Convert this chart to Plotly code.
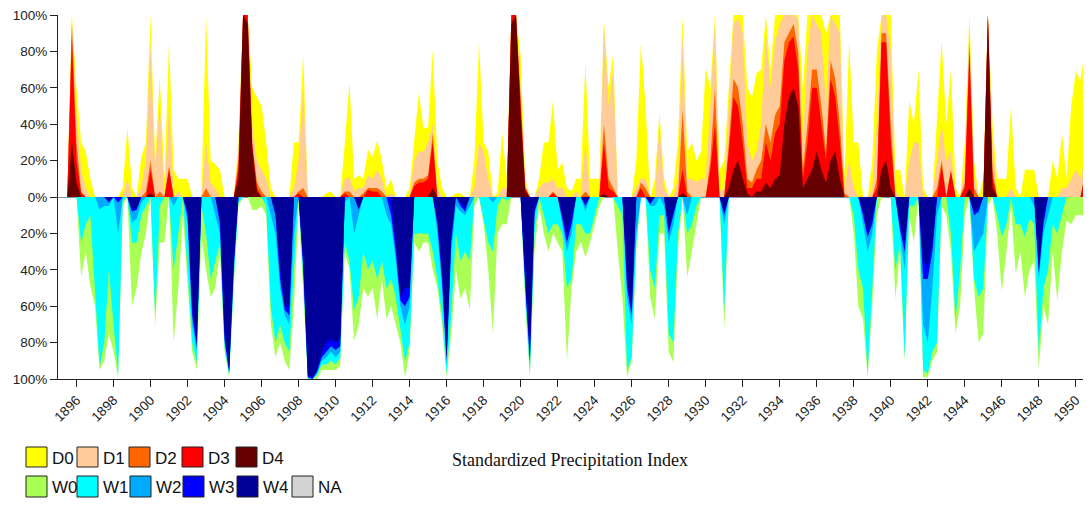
import plotly.graph_objects as go

# ---------------- data (percent of area, quarterly, cumulative classes) ----------------
years = list(range(1895, 1951))
quarters = [0.0, 0.25, 0.5, 0.75]
tick_years = list(range(1896, 1951, 2))
tick_labels = [str(y) for y in tick_years]
y_ticks = [-100, -80, -60, -40, -20, 0, 20, 40, 60, 80, 100]
y_labels = [f"{abs(v)}%" for v in y_ticks]

d0 = [0,0,0,100, 60,30,25,10,
      0,0,0,0, 0,0,5,38,
      5,0,22,30, 100,20,66,10,
      85,15,10,10, 10,0,0,0,
      100,20,18,15, 0,0,0,30,
      100,100,60,55, 50,30,5,0,
      0,0,0,30, 30,79,0,0,
      0,0,2,3, 0,0,30,63,
      10,12,10,26, 22,31,20,5,
      10,0,0,0, 5,33,57,38,
      38,81,20,5, 0,0,2,2,
      0,0,20,85, 30,25,0,2,
      35,10,100,100, 77,10,0,0,
      10,30,30,53, 15,19,5,3,
      10,10,74,10, 10,10,97,60,
      79,0,0,0, 0,20,85,50,
      0,10,46,10, 0,5,30,99,
      25,30,20,25, 71,60,100,15,
      20,60,100,100, 100,60,55,68,
      70,100,70,100, 100,100,100,100,
      100,60,100,100, 100,100,90,100,
      100,100,10,86, 30,30,0,0,
      20,80,100,100, 100,15,15,0,
      53,40,70,5, 0,0,40,86,
      40,70,5,0, 30,100,20,0,
      10,100,40,10, 10,10,50,5,
      0,15,15,15, 0,0,0,20,
      10,35,10,50, 69,64,82,53]

d1 = [0,0,0,98, 45,15,5,0,
      0,0,0,0, 0,0,0,10,
      0,0,5,20, 85,15,52,0,
      50,0,3,0, 0,0,0,0,
      30,8,5,0, 0,0,0,25,
      100,100,40,20, 15,10,0,0,
      0,0,0,5, 20,60,0,0,
      0,0,0,0, 0,0,10,11,
      3,5,5,12, 10,15,10,0,
      2,0,0,0, 0,20,25,25,
      30,40,5,0, 0,0,0,0,
      0,0,5,30, 25,10,0,0,
      5,5,100,100, 60,8,0,0,
      5,8,8,10, 5,5,0,0,
      3,0,30,0, 0,0,95,50,
      70,0,0,0, 0,5,10,10,
      0,0,40,5, 0,0,10,90,
      10,10,8,10, 10,50,95,3,
      5,50,95,98, 90,30,20,25,
      40,90,60,85, 95,100,100,100,
      98,30,80,100, 95,90,50,100,
      95,90,5,20, 5,0,0,0,
      5,40,100,100, 80,3,0,0,
      20,30,30,0, 0,0,20,40,
      20,25,0,0, 15,95,10,0,
      0,100,30,0, 0,0,5,0,
      0,0,0,0, 0,0,0,0,
      0,5,5,10, 15,10,20,10]

d2 = [0,0,0,95, 30,3,0,0,
      0,0,0,0, 0,0,0,0,
      0,0,0,3, 20,0,3,0,
      17,0,0,0, 0,0,0,0,
      5,0,0,0, 0,0,0,20,
      100,100,30,8, 3,0,0,0,
      0,0,0,0, 3,5,0,0,
      0,0,0,0, 0,0,3,3,
      0,0,2,5, 5,5,3,0,
      0,0,0,0, 0,8,10,10,
      12,35,0,0, 0,0,0,0,
      0,0,0,0, 0,0,0,0,
      0,0,100,100, 55,5,0,0,
      0,0,0,3, 0,0,0,0,
      0,0,3,0, 0,0,40,10,
      5,0,0,0, 0,0,8,5,
      0,0,0,0, 0,0,0,48,
      3,0,0,0, 0,20,60,0,
      0,30,65,60, 40,10,8,15,
      20,40,30,45, 50,85,90,95,
      80,15,40,70, 70,50,25,75,
      65,40,2,0, 0,0,0,0,
      0,10,90,90, 40,0,0,0,
      0,0,0,0, 0,0,5,20,
      0,15,0,0, 8,85,5,0,
      0,100,15,0, 0,0,0,0,
      0,0,0,0, 0,0,0,0,
      0,0,0,0, 0,0,14,0]

d3 = [0,0,0,88, 20,2,0,0,
      0,0,0,0, 0,0,0,0,
      0,0,0,0, 15,0,0,0,
      15,0,0,0, 0,0,0,0,
      0,0,0,0, 0,0,0,15,
      100,100,28,5, 0,0,0,0,
      0,0,0,0, 2,0,0,0,
      0,0,0,0, 0,0,2,0,
      0,0,0,4, 3,3,0,0,
      0,0,0,0, 0,6,8,8,
      10,30,0,0, 0,0,0,0,
      0,0,0,0, 0,0,0,0,
      0,0,100,100, 50,5,0,0,
      0,0,0,2, 0,0,0,0,
      0,0,0,0, 0,0,30,5,
      3,0,0,0, 0,0,5,0,
      0,0,0,0, 0,0,0,15,
      0,0,0,0, 0,15,40,0,
      0,25,55,50, 30,5,5,10,
      10,30,20,35, 40,75,85,88,
      70,10,30,60, 60,40,20,65,
      55,30,0,0, 0,0,0,0,
      0,5,85,85, 30,0,0,0,
      0,0,0,0, 0,0,0,17,
      0,14,0,0, 5,80,0,0,
      0,100,10,0, 0,0,0,0,
      0,0,0,0, 0,0,0,0,
      0,0,0,0, 0,0,12,0]

d4 = [0,0,0,30, 8,0,0,0,
      0,0,0,0, 0,0,0,0,
      0,0,0,0, 2,0,0,0,
      0,0,0,0, 0,0,0,0,
      0,0,0,0, 0,0,0,10,
      100,95,26,3, 0,0,0,0,
      0,0,0,0, 0,0,0,0,
      0,0,0,0, 0,0,0,0,
      0,0,0,0, 0,0,0,0,
      0,0,0,0, 0,0,0,0,
      0,5,0,0, 0,0,0,0,
      0,0,0,0, 0,0,0,0,
      0,0,95,100, 45,3,0,0,
      0,0,0,0, 0,0,0,0,
      0,0,0,0, 0,0,2,0,
      0,0,0,0, 0,0,0,0,
      0,0,0,0, 0,0,0,2,
      0,0,0,0, 0,0,0,0,
      0,5,15,20, 10,2,0,3,
      3,8,5,10, 12,40,55,60,
      50,5,10,15, 25,15,8,20,
      25,10,0,0, 0,0,0,0,
      0,0,15,20, 5,0,0,0,
      0,0,0,0, 0,0,0,0,
      0,0,0,0, 0,5,0,0,
      0,100,5,0, 0,0,0,0,
      0,0,0,0, 0,0,0,0,
      0,0,0,0, 0,0,0,0]

w0 = [0,0,0,0, 0,44,30,49,
      60,95,90,75, 85,99,5,0,
      60,50,31,20, 0,71,25,25,
      0,80,50,10, 50,85,95,22,
      40,55,50,30, 85,99,50,5,
      0,0,7,7, 5,10,70,88,
      80,90,95,60, 5,50,100,100,
      100,95,95,95, 95,93,30,40,
      79,70,50,55, 50,67,45,67,
      60,70,80,99, 85,25,30,25,
      25,40,50,70, 99,75,40,56,
      50,62,5,0, 15,40,75,20,
      15,15,0,0, 0,60,99,30,
      5,20,30,20, 25,30,90,50,
      30,25,33,25, 15,5,0,0,
      0,30,56,99, 90,30,0,0,
      55,67,20,20, 85,91,30,0,
      44,30,15,0, 0,0,0,0,
      73,0,0,0, 0,0,0,0,
      0,0,0,0, 0,0,0,0,
      0,0,0,0, 0,0,0,0,
      0,0,0,0, 20,60,67,99,
      60,10,0,0, 0,56,30,91,
      10,25,0,99, 99,90,85,5,
      10,30,75,60, 10,0,50,80,
      75,5,0,20, 52,30,5,42,
      30,55,40,35, 95,60,70,30,
      57,30,13,15, 10,10,10,15]

w1 = [0,0,0,0, 0,25,15,10,
      50,93,80,40, 70,97,2,0,
      25,25,10,5, 0,65,5,0,
      0,40,20,0, 40,80,91,5,
      20,45,35,25, 83,98,45,3,
      0,0,0,0, 0,5,60,80,
      70,80,85,40, 0,45,100,100,
      98,92,92,90, 92,88,25,35,
      62,55,30,40, 35,45,35,50,
      45,55,72,90, 80,20,20,20,
      20,30,45,65, 97,65,20,35,
      30,35,0,0, 12,25,30,5,
      0,2,0,0, 0,55,97,20,
      0,10,20,15, 15,20,50,45,
      15,15,20,20, 10,0,0,0,
      0,5,10,95, 88,25,0,0,
      40,50,10,10, 75,80,20,0,
      20,15,5,0, 0,0,0,0,
      62,0,0,0, 0,0,0,0,
      0,0,0,0, 0,0,0,0,
      0,0,0,0, 0,0,0,0,
      0,0,0,0, 10,40,50,97,
      50,0,0,0, 0,40,25,88,
      5,5,0,95, 97,85,80,0,
      0,20,67,40, 0,0,45,55,
      50,0,0,10, 22,15,0,15,
      15,22,12,15, 85,50,40,15,
      20,10,0,0, 0,0,0,0]

w2 = [0,0,0,0, 0,0,0,0,
      0,7,5,5, 0,20,0,0,
      14,12,3,0, 0,0,0,0,
      0,5,0,0, 15,70,85,0,
      0,0,10,20, 80,97,40,0,
      0,0,0,0, 0,0,10,20,
      50,65,70,20, 0,40,99,100,
      97,90,88,85, 88,85,3,0,
      20,10,0,0, 0,0,0,10,
      15,35,60,70, 60,0,0,0,
      0,0,20,50, 92,30,5,8,
      10,5,0,0, 0,0,3,0,
      0,0,0,0, 0,50,92,10,
      0,0,0,0, 0,15,30,20,
      0,0,8,0, 0,0,0,0,
      0,0,0,55, 70,20,0,0,
      5,5,0,5, 25,15,0,0,
      10,0,0,0, 0,0,0,0,
      15,0,0,0, 0,0,0,0,
      0,0,0,0, 0,0,0,0,
      0,0,0,0, 0,0,0,0,
      0,0,0,0, 0,0,15,30,
      20,0,0,0, 0,0,20,40,
      0,0,0,70, 80,50,10,0,
      0,0,0,0, 0,0,30,25,
      20,0,0,0, 0,0,0,0,
      0,0,0,5, 45,20,10,0,
      0,0,0,0, 0,0,0,0]

w3 = [0,0,0,0, 0,0,0,0,
      0,0,0,3, 0,3,0,0,
      8,7,0,0, 0,0,0,0,
      0,0,0,0, 10,65,82,0,
      0,0,0,15, 78,96,38,0,
      0,0,0,0, 0,0,0,10,
      45,62,65,0, 0,38,99,100,
      96,88,85,82, 84,82,0,0,
      0,7,0,0, 0,0,0,0,
      10,30,57,60, 55,0,0,0,
      0,0,15,45, 90,25,0,5,
      8,0,0,0, 0,0,0,0,
      0,0,0,0, 0,48,90,8,
      0,0,0,0, 0,12,25,15,
      0,0,5,0, 0,0,0,0,
      0,0,0,50, 65,0,0,0,
      4,0,0,0, 20,10,0,0,
      0,0,0,0, 0,0,0,0,
      10,0,0,0, 0,0,0,0,
      0,0,0,0, 0,0,0,0,
      0,0,0,0, 0,0,0,0,
      0,0,0,0, 0,0,10,22,
      15,0,0,0, 0,0,18,30,
      0,0,0,45, 45,30,0,0,
      0,0,0,0, 0,0,10,8,
      0,0,0,0, 0,0,0,0,
      0,0,0,0, 42,15,0,0,
      0,0,0,0, 0,0,0,0]

w4 = [0,0,0,0, 0,0,0,0,
      0,0,0,2, 0,0,0,0,
      7,6,0,0, 0,0,0,0,
      0,0,0,0, 8,60,80,0,
      0,0,0,10, 75,95,35,0,
      0,0,0,0, 0,0,0,8,
      40,60,60,0, 0,35,98,99,
      95,85,80,78, 80,78,0,0,
      0,6,0,0, 0,0,0,0,
      0,25,55,50, 50,0,0,0,
      0,0,12,40, 88,20,0,3,
      6,0,0,0, 0,0,0,0,
      0,0,0,0, 0,45,85,5,
      0,0,0,0, 0,10,20,10,
      0,0,3,0, 0,0,0,0,
      0,0,0,45, 62,0,0,0,
      3,0,0,0, 18,8,0,0,
      0,0,0,0, 0,0,0,0,
      8,0,0,0, 0,0,0,0,
      0,0,0,0, 0,0,0,0,
      0,0,0,0, 0,0,0,0,
      0,0,0,0, 0,0,8,20,
      10,0,0,0, 0,0,15,25,
      0,0,0,35, 38,25,0,0,
      0,0,0,0, 0,0,8,6,
      0,0,0,0, 0,0,0,0,
      0,0,0,0, 40,10,0,0,
      0,0,0,0, 0,0,0,0]

d_names = ["D0", "D1", "D2", "D3", "D4"]
w_names = ["W0", "W1", "W2", "W3", "W4"]
d_colors = ["#FFFF00", "#FFCC99", "#FF6600", "#FF0000", "#660000"]
w_colors = ["#AAFF55", "#00FFFF", "#00AAFF", "#0000FF", "#000099"]
na_color = "#D3D3D3"

# ---------------- figure ----------------
t = [y + q for y in years for q in quarters]
fig = go.Figure()

for name, col, vals in zip(d_names, d_colors, [d0, d1, d2, d3, d4]):
    assert len(vals) == len(t), name
    fig.add_trace(go.Scatter(x=t, y=vals, mode="lines", name=name,
                             line=dict(width=0, color=col), fill="tozeroy",
                             fillcolor=col, hoverinfo="skip", showlegend=False))
for name, col, vals in zip(w_names, w_colors, [w0, w1, w2, w3, w4]):
    assert len(vals) == len(t), name
    fig.add_trace(go.Scatter(x=t, y=[-v for v in vals], mode="lines", name=name,
                             line=dict(width=0, color=col), fill="tozeroy",
                             fillcolor=col, hoverinfo="skip", showlegend=False))

# page body has an 8px default margin; work in screen pixels and shift
OFF = 8
W, H = 1091 - OFF, 506 - OFF
plot_left, plot_top, plot_bottom = 58 - OFF, 15 - OFF, 379 - OFF
L, R, T, B = plot_left, 0, plot_top, H - plot_bottom
pw, ph = W - L - R, H - T - B

def px_x(p):
    return (p - OFF - L) / pw

def px_y(p):
    return (plot_bottom - (p - OFF)) / ph

font_family = "Liberation Sans, Arial, sans-serif"

shapes = []
annotations = []
legend_rows = [
    (list(zip(d_names, d_colors)), [26, 77, 129, 182, 236], 447, 467),
    (list(zip(w_names + ["NA"], w_colors + [na_color])), [26, 77, 130, 183, 237, 292], 476, 497),
]
for items, xs, y0, y1 in legend_rows:
    for (name, col), x0 in zip(items, xs):
        shapes.append(dict(type="rect", xref="paper", yref="paper",
                           x0=px_x(x0), x1=px_x(x0 + 21), y0=px_y(y1), y1=px_y(y0),
                           fillcolor=col, line=dict(color="#222222", width=1)))
        annotations.append(dict(text=name, xref="paper", yref="paper",
                                x=px_x(x0 + 24), y=px_y((y0 + y1) / 2 + 1),
                                xanchor="left", yanchor="middle", showarrow=False,
                                font=dict(family=font_family, size=17, color="#111")))

annotations.append(dict(text="Standardized Precipitation Index", xref="paper", yref="paper",
                        x=px_x(570), y=px_y(460), xanchor="center", yanchor="middle",
                        showarrow=False,
                        font=dict(family="Liberation Serif, Times New Roman, serif", size=18, color="#111")))

fig.update_layout(
    width=W, height=H,
    margin=dict(l=L, r=R, t=T, b=B, pad=0),
    plot_bgcolor="white", paper_bgcolor="white",
    showlegend=False,
    shapes=shapes, annotations=annotations,
    xaxis=dict(range=[1895.0, 1950.82], tickmode="array", tickvals=tick_years,
               ticktext=tick_labels, tickangle=-45, ticks="outside", ticklen=7,
               tickcolor="#222", showline=True, linecolor="#222", linewidth=1,
               showgrid=False, zeroline=False, automargin=False,
               ticklabeloverflow="allow",
               tickfont=dict(family=font_family, size=13.5, color="#222")),
    yaxis=dict(range=[-100, 100], tickmode="array", tickvals=y_ticks,
               ticktext=y_labels, ticks="outside", ticklen=7, tickcolor="#222",
               showline=True, linecolor="#222", linewidth=1, showgrid=False,
               zeroline=True, zerolinecolor="#8890b0", zerolinewidth=1, automargin=False,
               ticklabeloverflow="allow",
               tickfont=dict(family=font_family, size=13.5, color="#222")),
)

fig.write_html("out.html")
